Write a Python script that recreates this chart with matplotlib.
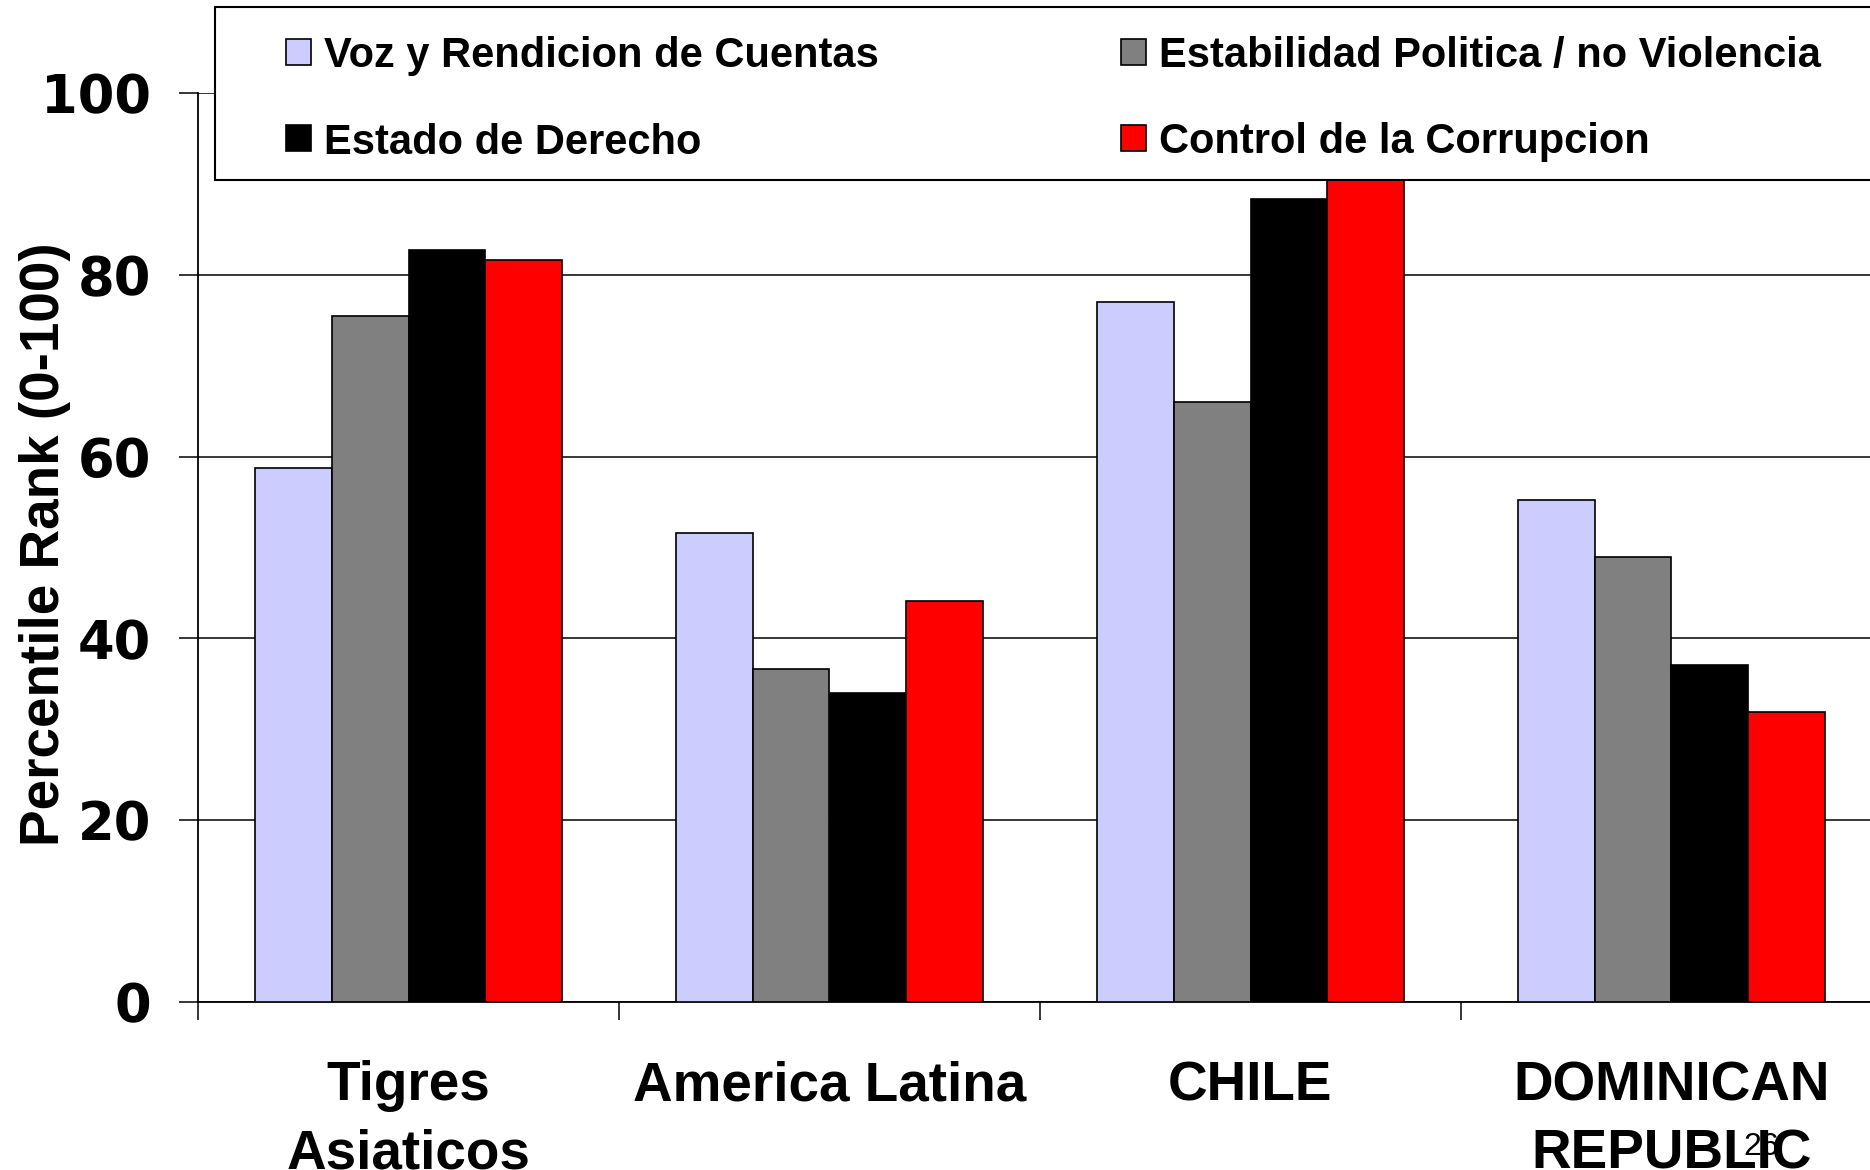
import matplotlib
matplotlib.use("Agg")
import matplotlib.pyplot as plt
from matplotlib.patches import Rectangle
import numpy as np

# ---- data ----
categories = ["Tigres\nAsiaticos", "America Latina", "CHILE", "DOMINICAN\nREPUBLIC"]
series_names = ["Voz y Rendicion de Cuentas", "Estabilidad Politica / no Violencia",
                "Estado de Derecho", "Control de la Corrupcion"]
voz = [58.8, 51.6, 77.0, 55.2]
estabilidad = [75.5, 36.6, 66.0, 49.0]
estado = [82.7, 34.0, 88.3, 37.1]
corrupcion = [81.6, 44.1, 91.5, 31.9]
series_values = [voz, estabilidad, estado, corrupcion]
series_colors = ["#CCCCFF", "#808080", "#000000", "#FF0000"]
yticks = [0, 20, 40, 60, 80, 100]
ylabel = "Percentile Rank (0-100)"
slide_number = "26"

W, H = 1870, 1170
fig = plt.figure(figsize=(W / 100, H / 100), dpi=100)
ax = fig.add_axes([198 / W, (H - 1002) / H, 1684 / W, 909 / H])

x = np.arange(len(categories))
bw = 0.1825
for i, (vals, col) in enumerate(zip(series_values, series_colors)):
    ax.bar(x + (i - 1.5) * bw, vals, width=bw, color=col, edgecolor="black",
           linewidth=1.2, zorder=3)

ax.set_xlim(-0.5, len(categories) - 0.5)
ax.set_ylim(0, 100)
ax.set_yticks(yticks)
ax.set_yticklabels([str(t) for t in yticks], fontfamily="DejaVu Sans",
                   fontweight="bold", fontsize=38)
ax.yaxis.grid(True, color="black", linewidth=1.1, zorder=0)
ax.set_axisbelow(True)
ax.tick_params(axis="y", direction="out", length=14, width=1.1, pad=20)

ax.set_xticks(np.arange(len(categories) + 1) - 0.5)
ax.set_xticklabels([])
ax.set_xticks(x, minor=True)
ax.set_xticklabels(categories, minor=True, fontfamily="Liberation Sans",
                   fontweight="bold", fontsize=39.5, linespacing=1.40)
ax.tick_params(axis="x", which="major", direction="out", length=13, width=1.1)
ax.tick_params(axis="x", which="minor", length=0, pad=42)

for s in ["top", "right"]:
    ax.spines[s].set_visible(False)
for s in ["left", "bottom"]:
    ax.spines[s].set_linewidth(1.3)

fig.text(45 / W, 1 - 544 / H, ylabel, rotation=90, ha="center", va="center",
         fontfamily="Liberation Sans", fontweight="bold", fontsize=39.5)

# ---- legend box (drawn on top of axes) ----
lx0, ly_top, ly_bot = 215, 7, 180
fig.patches.append(Rectangle((lx0 / W, 1 - ly_bot / H), (W + 20 - lx0) / W,
                             (ly_bot - ly_top) / H, transform=fig.transFigure,
                             facecolor="white", edgecolor="black", linewidth=1.5,
                             zorder=10))
col_x = [286, 1121]
row_y = [52, 138]
msz = 25
for i, (name, col) in enumerate(zip(series_names, series_colors)):
    cx = col_x[i % 2]
    cy = row_y[i // 2]
    fig.patches.append(Rectangle((cx / W, 1 - (cy + msz / 2) / H), msz / W, msz / H,
                                 transform=fig.transFigure, facecolor=col,
                                 edgecolor="black", linewidth=1.2, zorder=11))
    fig.text((cx + 38) / W, 1 - cy / H, name, ha="left", va="center_baseline",
             fontfamily="Liberation Sans", fontweight="bold", fontsize=30, zorder=12)

fig.text(1743 / W, 15 / H, slide_number, ha="left", va="baseline",
         fontfamily="Liberation Sans", fontsize=23, zorder=-1)

fig.savefig("out.png", dpi=100)
